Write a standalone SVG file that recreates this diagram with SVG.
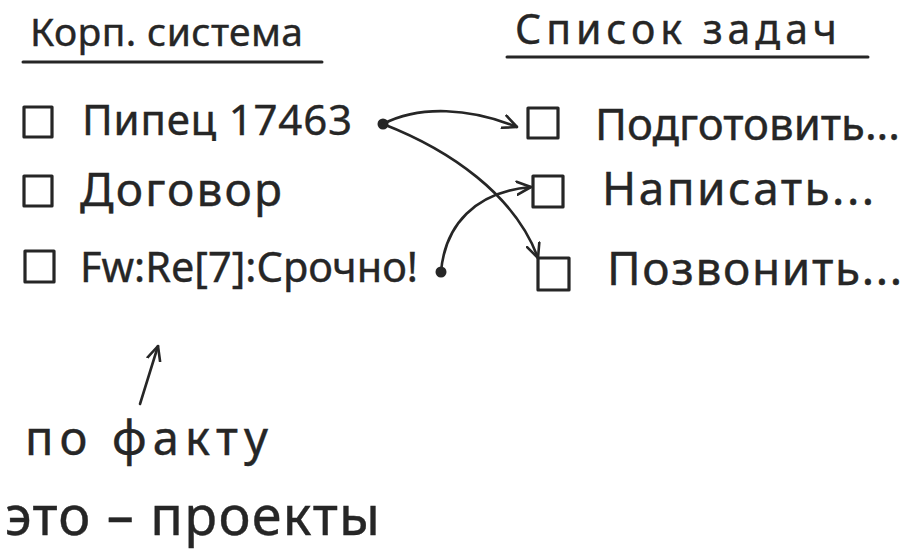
<svg xmlns="http://www.w3.org/2000/svg" width="920" height="558" viewBox="0 0 920 558">
<defs>
<style>
.t{font-family:"Noto Sans","Liberation Sans",sans-serif;fill:#262626;stroke:#262626;stroke-width:0.4;}
.box{fill:none;stroke:#262626;stroke-width:3.2;stroke-linejoin:round;}
.ul{stroke:#262626;stroke-width:3;stroke-linecap:round;fill:none;}
.c{fill:none;stroke:#262626;stroke-width:2.6;stroke-linecap:round;}
.dot{fill:#262626;}
</style>
<marker id="ah" viewBox="0 0 16 16" refX="15" refY="8" markerWidth="16" markerHeight="16" markerUnits="userSpaceOnUse" orient="auto">
<path d="M1,1.5 L15,8 L1,14.5" fill="none" stroke="#262626" stroke-width="2.6" stroke-linecap="round" stroke-linejoin="round"/>
</marker>
</defs>
<rect width="920" height="558" fill="#ffffff"/>

<g id="header-left">
<text class="t" x="30" y="46" font-size="39" textLength="273" lengthAdjust="spacing">Корп. система</text>
<line class="ul" x1="23" y1="62" x2="322" y2="62"/>
</g>
<g id="header-right">
<text class="t" x="515" y="44" font-size="41" textLength="322" lengthAdjust="spacing">Список задач</text>
<line class="ul" x1="507" y1="57" x2="868" y2="57"/>
</g>

<g id="item-pipets">
<rect class="box" x="24" y="107" width="28" height="30"/>
<text class="t" x="82" y="135" font-size="42" textLength="270" lengthAdjust="spacing">Пипец 17463</text>
</g>
<g id="item-dogovor">
<rect class="box" x="24" y="176" width="28" height="30"/>
<text class="t" x="80" y="206" font-size="46" textLength="202" lengthAdjust="spacing">Договор</text>
</g>
<g id="item-fwre">
<rect class="box" x="25" y="251" width="29" height="31"/>
<text class="t" x="80" y="282" font-size="41" textLength="338" lengthAdjust="spacingAndGlyphs">Fw:Re[7]:Срочно!</text>
</g>

<g id="task-podgotovit">
<rect class="box" x="528" y="108" width="30" height="30"/>
<text class="t" x="595" y="140" font-size="44" textLength="305" lengthAdjust="spacingAndGlyphs">Подготовить...</text>
</g>
<g id="task-napisat">
<rect class="box" x="533" y="176" width="30" height="31"/>
<text class="t" x="602" y="205" font-size="46" textLength="272" lengthAdjust="spacing">Написать...</text>
</g>
<g id="task-pozvonit">
<rect class="box" x="538" y="258" width="31" height="32"/>
<text class="t" x="607" y="285" font-size="46" textLength="295" lengthAdjust="spacing">Позвонить...</text>
</g>

<g id="note">
<text class="t" x="25" y="455" font-size="47" textLength="243" lengthAdjust="spacing">по факту</text>
<text class="t" x="5" y="535" font-size="54" textLength="375" lengthAdjust="spacing">это – проекты</text>
</g>

<g id="connectors">
<circle class="dot" cx="383" cy="124" r="5.5"/>
<circle class="dot" cx="441" cy="272" r="5.5"/>
<path class="c" d="M383,124 C420,105 470,108 517,127" marker-end="url(#ah)"/>
<path class="c" d="M383,124 C450,150 515,195 538,258" marker-end="url(#ah)"/>
<path class="c" d="M441,272 C445,225 475,192 531,187" marker-end="url(#ah)"/>
<path class="c" d="M140,404 L158,346" marker-end="url(#ah)"/>
</g>
</svg>
